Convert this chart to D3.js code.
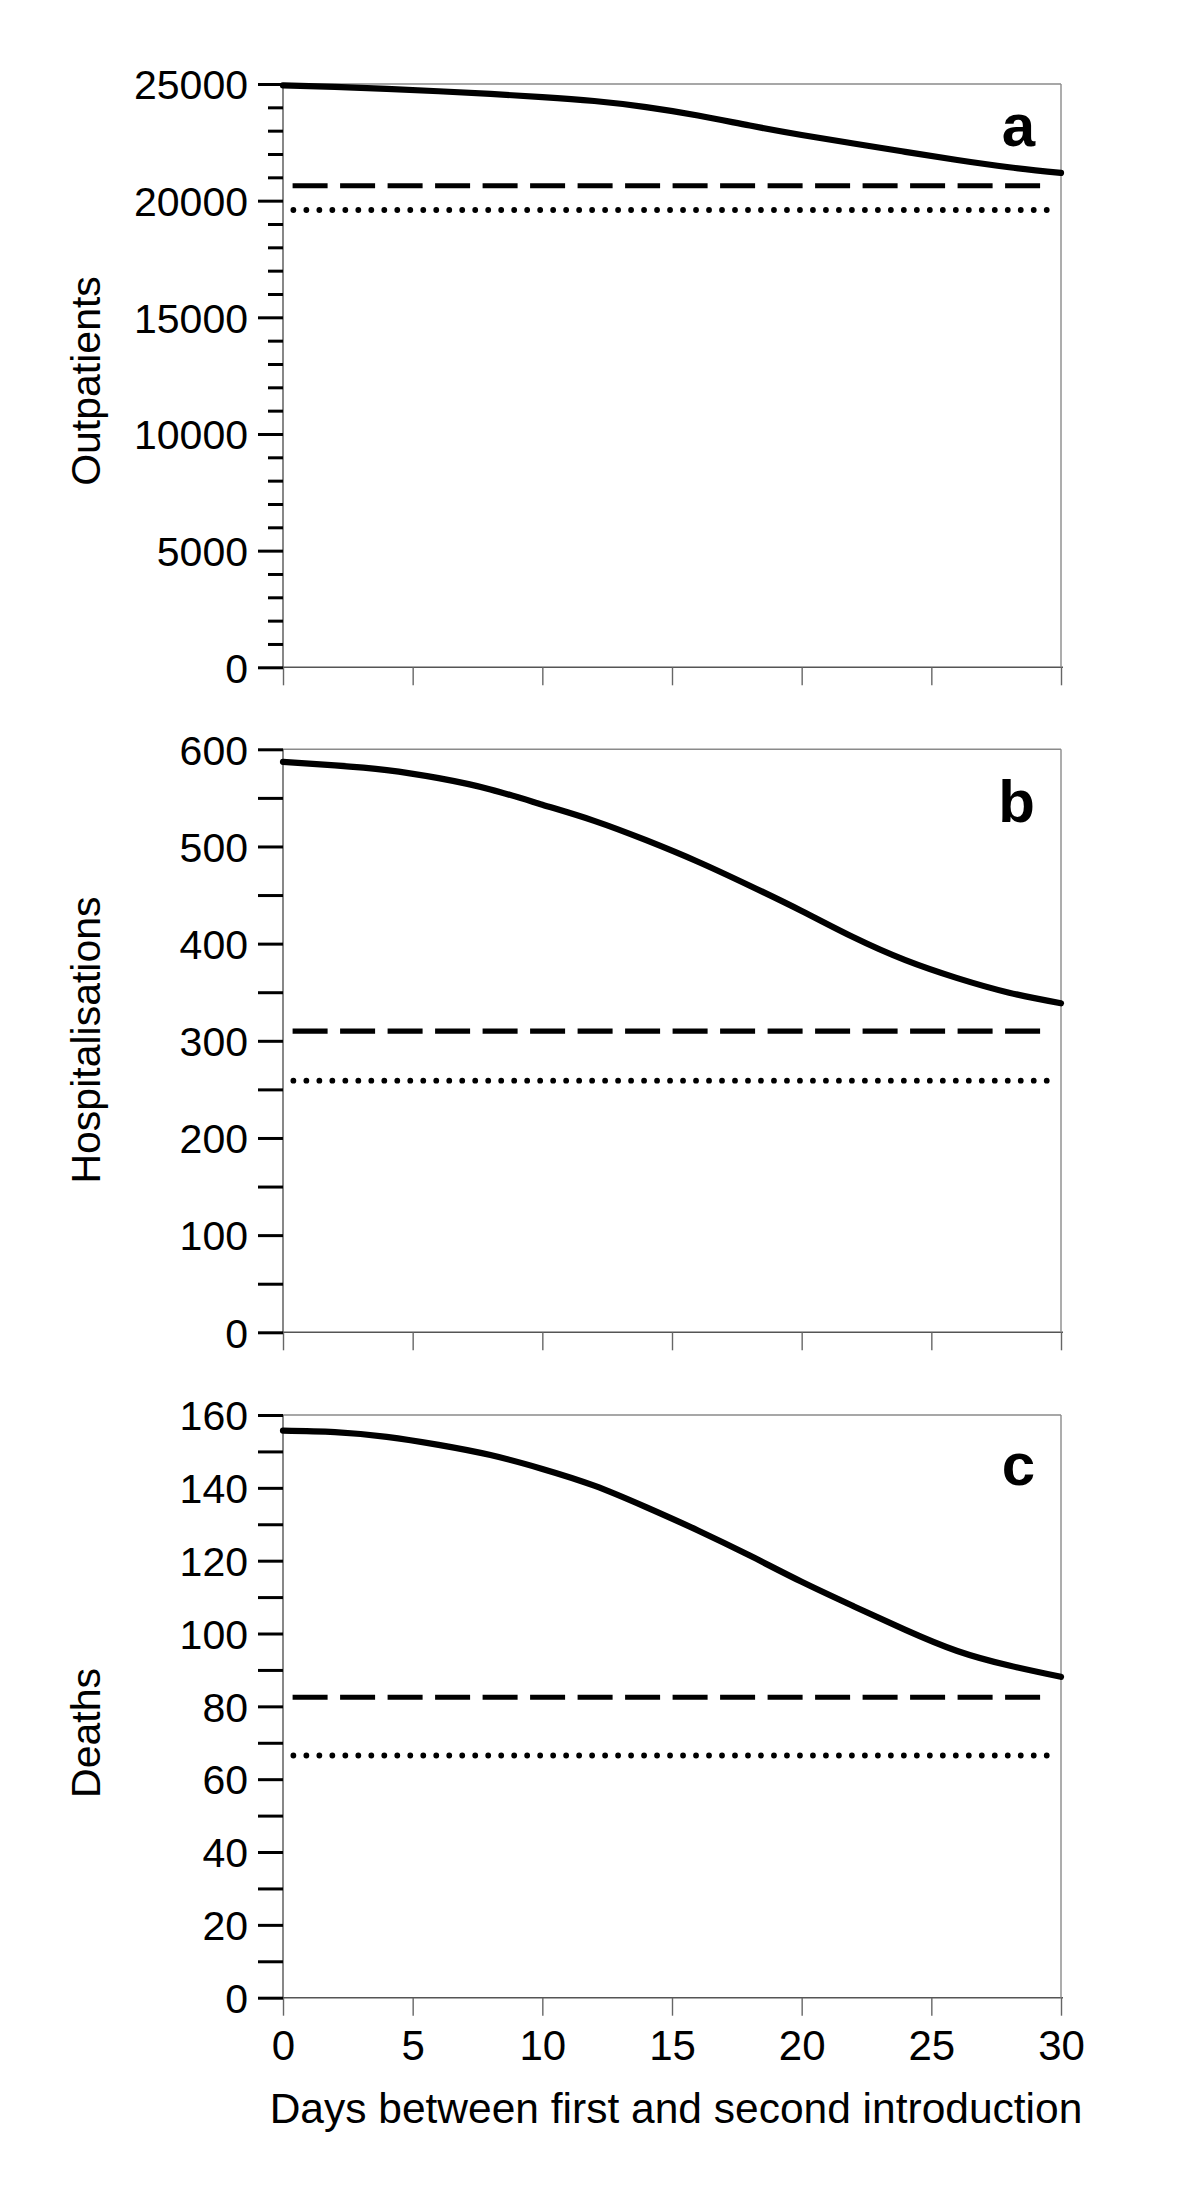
<!DOCTYPE html>
<html>
<head>
<meta charset="utf-8">
<script src="https://cdnjs.cloudflare.com/ajax/libs/d3/7.8.5/d3.min.js"></script>
<style>
  html, body { margin: 0; padding: 0; background: #fff; }
  svg { display: block; }
</style>
</head>
<body>
<script>
// ---------- data ----------
const days = [0, 2, 4, 6, 8, 10, 12, 14, 16, 18, 20, 22, 24, 26, 28, 30];
const outpatients = [24944, 24875, 24790, 24690, 24575, 24440, 24270, 24010, 23650, 23220, 22815, 22452, 22093, 21740, 21430, 21190];
const hospitalisations = [587, 583.5, 578.6, 570.3, 558.7, 543, 526.4, 506.5, 484.3, 459.6, 433.6, 406.5, 383, 364.5, 349.5, 338.6];
const deaths = [155.7, 155.3, 154.0, 151.8, 149.0, 145.2, 140.6, 134.7, 128.3, 121.4, 114.2, 107.5, 101.0, 95.2, 91.2, 88.1];
const dashedValues = [20640, 310, 82.5];
const dottedValues = [19600, 259, 66.5];
const dashedDays = [0.37, 29.23];
const dottedDays = [0.40, 29.45];
const panelLetters = ["a", "b", "c"];
const yTitles = ["Outpatients", "Hospitalisations", "Deaths"];
const yMaxima = [25000, 600, 160];
const yMajorSteps = [5000, 100, 20];
const yMinorSteps = [1000, 50, 10];
const xTickValues = [0, 5, 10, 15, 20, 25, 30];
const xTitle = "Days between first and second introduction";

// ---------- layout ----------
const W = 1200, H = 2207;
const left = 283, right = 1061;
const panels = [
  { top: 84, bottom: 667.3, series: outpatients, minorLen: 15, letterY: 146, titleY: 381 },
  { top: 749.3, bottom: 1332.3, series: hospitalisations, minorLen: 25, letterY: 821.7, titleY: 1040 },
  { top: 1415, bottom: 1997.7, series: deaths, minorLen: 25, letterY: 1485, titleY: 1733 }
];
const FONT = "'Liberation Sans', Arial, Helvetica, sans-serif";

const svg = d3.select("body").append("svg").attr("width", W).attr("height", H);
const x = d3.scaleLinear().domain([0, 30]).range([left, right]);

panels.forEach((p, i) => {
  const y = d3.scaleLinear().domain([0, yMaxima[i]]).range([p.bottom, p.top]);
  const g = svg.append("g");

  // frame: top border
  g.append("line").attr("x1", x(0)).attr("x2", x(30)).attr("y1", y(yMaxima[i])).attr("y2", y(yMaxima[i]))
    .attr("stroke", "#8a8a8a").attr("stroke-width", 1.4);
  // x axis line
  g.append("line").attr("x1", x(0)).attr("x2", x(30) + 2).attr("y1", y(0)).attr("y2", y(0))
    .attr("stroke", "#555").attr("stroke-width", 1.4);

  // x ticks (downwards, thin)
  const xa = d3.axisBottom(x).tickValues(xTickValues).tickSize(18)
    .tickFormat(i === panels.length - 1 ? d3.format("d") : () => "").tickPadding(14);
  const xg = g.append("g").attr("transform", `translate(0,${y(0)})`).call(xa);
  xg.select(".domain").remove();
  xg.selectAll(".tick line").attr("stroke", "#666").attr("stroke-width", 1.4);
  xg.selectAll(".tick text").attr("font-family", FONT).attr("font-size", 42).attr("fill", "#000");

  // right border & y axis line
  g.append("line").attr("x1", x(30)).attr("x2", x(30)).attr("y1", y(yMaxima[i])).attr("y2", y(0))
    .attr("stroke", "#8a8a8a").attr("stroke-width", 1.4);
  g.append("line").attr("x1", x(0)).attr("x2", x(0)).attr("y1", y(yMaxima[i])).attr("y2", y(0))
    .attr("stroke", "#555").attr("stroke-width", 1.4);

  // y minor ticks
  const minors = d3.range(0, yMaxima[i] + 1e-9, yMinorSteps[i]).filter(v => Math.abs(v / yMajorSteps[i] - Math.round(v / yMajorSteps[i])) > 1e-6);
  const ym = d3.axisLeft(y).tickValues(minors).tickSize(p.minorLen).tickFormat(() => "");
  const ymg = g.append("g").attr("transform", `translate(${x(0)},0)`).call(ym);
  ymg.select(".domain").remove();
  ymg.selectAll(".tick line").attr("stroke", "#000").attr("stroke-width", 3);

  // y major ticks
  const majors = d3.range(0, yMaxima[i] + 1e-9, yMajorSteps[i]);
  const ya = d3.axisLeft(y).tickValues(majors).tickSize(25).tickPadding(10).tickFormat(d3.format("d"));
  const yg = g.append("g").attr("transform", `translate(${x(0)},0)`).call(ya);
  yg.select(".domain").remove();
  yg.selectAll(".tick line").attr("stroke", "#000").attr("stroke-width", 3);
  yg.selectAll(".tick text").attr("font-family", FONT).attr("font-size", 41).attr("fill", "#000").attr("dy", "0.36em");

  // reference lines
  g.append("line").attr("x1", x(dashedDays[0])).attr("x2", x(dashedDays[1]))
    .attr("y1", y(dashedValues[i])).attr("y2", y(dashedValues[i]))
    .attr("stroke", "#000").attr("stroke-width", 5.2).attr("stroke-dasharray", "35,12.5");
  g.append("line").attr("x1", x(dottedDays[0])).attr("x2", x(dottedDays[1]))
    .attr("y1", y(dottedValues[i])).attr("y2", y(dottedValues[i]))
    .attr("stroke", "#000").attr("stroke-width", 5.8).attr("stroke-linecap", "round")
    .attr("stroke-dasharray", `0,${(x(dottedDays[1]) - x(dottedDays[0])) / 58}`);

  // main curve
  const line = d3.line().x((d, k) => x(days[k])).y(d => y(d)).curve(d3.curveNatural);
  g.append("path").datum(p.series).attr("d", line)
    .attr("fill", "none").attr("stroke", "#000").attr("stroke-width", 6.2)
    .attr("stroke-linecap", "round").attr("stroke-linejoin", "round");

  // panel letter
  g.append("text").attr("x", 1035).attr("y", p.letterY).attr("text-anchor", "end")
    .attr("font-family", FONT).attr("font-weight", "bold").attr("font-size", 60).text(panelLetters[i]);

  // y title
  g.append("text").attr("transform", `translate(100,${p.titleY}) rotate(-90)`)
    .attr("text-anchor", "middle").attr("font-family", FONT).attr("font-size", 41).text(yTitles[i]);
});

// x title
svg.append("text").attr("x", 676).attr("y", 2123).attr("text-anchor", "middle")
  .attr("font-family", FONT).attr("font-size", 42.5).text(xTitle);
</script>
</body>
</html>
